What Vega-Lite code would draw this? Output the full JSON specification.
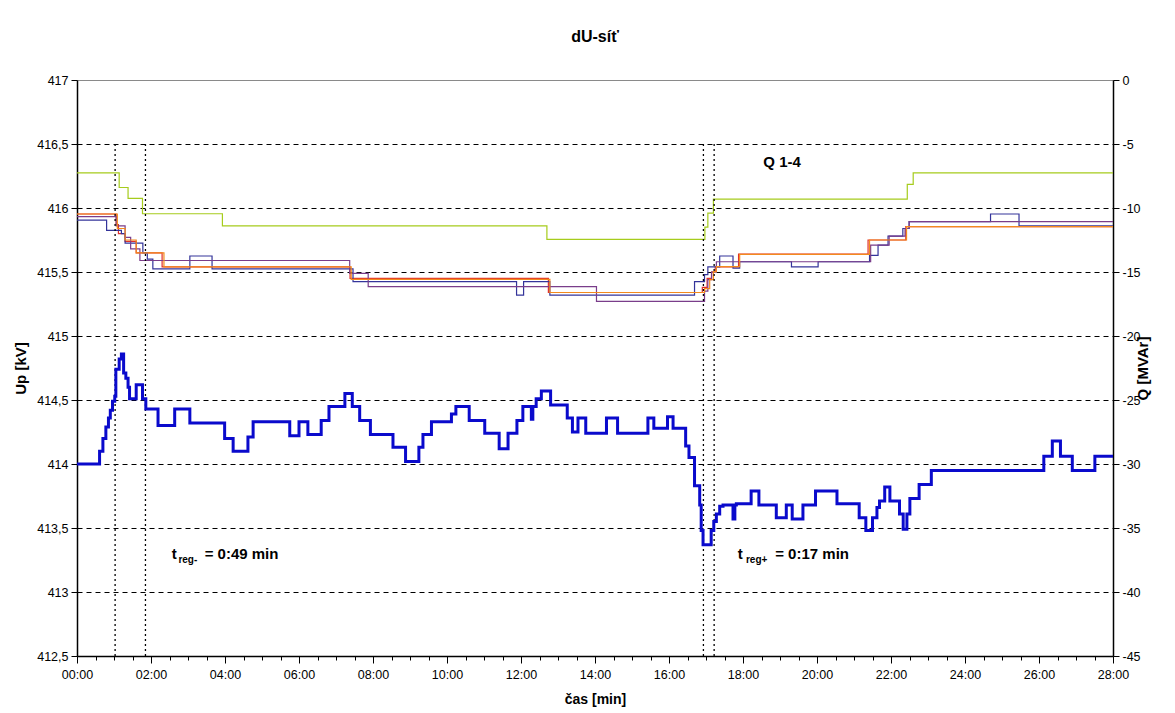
{
  "$schema": "https://vega.github.io/schema/vega-lite/v6.json",
  "width": 1036,
  "height": 576,
  "autosize": {"type": "none"},
  "padding": {"left": 77, "top": 80, "right": 62, "bottom": 57},
  "background": "white",
  "config": {"view": {"stroke": "#8a8a8a", "strokeWidth": 1}, "font": "Liberation Sans"},
  "title": {"text": "dU-síť", "font": "Liberation Sans", "fontSize": 16, "fontWeight": "bold", "color": "black", "anchor": "middle", "frame": "group", "offset": 29},
  "datasets": {
    "up": [
      {"t": 0, "U": 414.0}, {"t": 0.61, "U": 414.1}, {"t": 0.70, "U": 414.2}, {"t": 0.78, "U": 414.29}, {"t": 0.85, "U": 414.36},
      {"t": 0.90, "U": 414.42}, {"t": 0.96, "U": 414.49}, {"t": 1.02, "U": 414.53}, {"t": 1.05, "U": 414.74}, {"t": 1.14, "U": 414.82},
      {"t": 1.20, "U": 414.86}, {"t": 1.26, "U": 414.71}, {"t": 1.32, "U": 414.67}, {"t": 1.38, "U": 414.6}, {"t": 1.42, "U": 414.51},
      {"t": 1.60, "U": 414.62}, {"t": 1.77, "U": 414.51}, {"t": 1.86, "U": 414.43}, {"t": 2.19, "U": 414.3}, {"t": 2.64, "U": 414.43},
      {"t": 3.05, "U": 414.32}, {"t": 3.99, "U": 414.2}, {"t": 4.22, "U": 414.1}, {"t": 4.62, "U": 414.21}, {"t": 4.76, "U": 414.33},
      {"t": 5.75, "U": 414.22}, {"t": 6.00, "U": 414.33}, {"t": 6.24, "U": 414.23}, {"t": 6.60, "U": 414.34}, {"t": 6.81, "U": 414.45},
      {"t": 7.24, "U": 414.55}, {"t": 7.44, "U": 414.45}, {"t": 7.64, "U": 414.34}, {"t": 7.93, "U": 414.23}, {"t": 8.54, "U": 414.13},
      {"t": 8.88, "U": 414.02}, {"t": 9.24, "U": 414.13}, {"t": 9.35, "U": 414.23}, {"t": 9.58, "U": 414.33}, {"t": 10.12, "U": 414.39},
      {"t": 10.24, "U": 414.45}, {"t": 10.60, "U": 414.34}, {"t": 11.02, "U": 414.24}, {"t": 11.41, "U": 414.12}, {"t": 11.65, "U": 414.24},
      {"t": 11.89, "U": 414.34}, {"t": 12.05, "U": 414.45}, {"t": 12.28, "U": 414.35}, {"t": 12.32, "U": 414.45}, {"t": 12.41, "U": 414.51},
      {"t": 12.55, "U": 414.57}, {"t": 12.80, "U": 414.46}, {"t": 13.25, "U": 414.36}, {"t": 13.39, "U": 414.25}, {"t": 13.54, "U": 414.36},
      {"t": 13.75, "U": 414.24}, {"t": 14.31, "U": 414.36}, {"t": 14.61, "U": 414.24}, {"t": 15.43, "U": 414.36}, {"t": 15.59, "U": 414.28},
      {"t": 15.96, "U": 414.37}, {"t": 16.11, "U": 414.28}, {"t": 16.45, "U": 414.14}, {"t": 16.54, "U": 414.05}, {"t": 16.69, "U": 413.83},
      {"t": 16.83, "U": 413.68}, {"t": 16.87, "U": 413.48}, {"t": 16.92, "U": 413.37}, {"t": 17.14, "U": 413.48}, {"t": 17.21, "U": 413.55},
      {"t": 17.28, "U": 413.61}, {"t": 17.37, "U": 413.67}, {"t": 17.46, "U": 413.68}, {"t": 17.73, "U": 413.57}, {"t": 17.78, "U": 413.68},
      {"t": 17.82, "U": 413.69}, {"t": 18.22, "U": 413.79}, {"t": 18.43, "U": 413.68}, {"t": 18.90, "U": 413.58}, {"t": 19.17, "U": 413.68},
      {"t": 19.33, "U": 413.57}, {"t": 19.62, "U": 413.68}, {"t": 19.96, "U": 413.79}, {"t": 20.54, "U": 413.69}, {"t": 21.14, "U": 413.58},
      {"t": 21.32, "U": 413.48}, {"t": 21.50, "U": 413.58}, {"t": 21.62, "U": 413.66}, {"t": 21.69, "U": 413.71}, {"t": 21.83, "U": 413.82},
      {"t": 21.97, "U": 413.71}, {"t": 22.23, "U": 413.61}, {"t": 22.33, "U": 413.49}, {"t": 22.43, "U": 413.61}, {"t": 22.51, "U": 413.73},
      {"t": 22.76, "U": 413.84}, {"t": 23.09, "U": 413.95}, {"t": 26.13, "U": 414.06}, {"t": 26.36, "U": 414.18}, {"t": 26.58, "U": 414.06},
      {"t": 26.90, "U": 413.95}, {"t": 27.51, "U": 414.06}, {"t": 28.0, "U": 414.06}
    ],
    "q": [
      {"s": "R", "t": 0, "Q": -10.47}, {"s": "R", "t": 1.06, "Q": -11.3}, {"s": "R", "t": 1.12, "Q": -12.0}, {"s": "R", "t": 1.3, "Q": -12.6},
      {"s": "R", "t": 1.6, "Q": -13.5}, {"s": "R", "t": 2.3, "Q": -14.6}, {"s": "R", "t": 7.38, "Q": -15.5}, {"s": "R", "t": 12.74, "Q": -16.6},
      {"s": "R", "t": 16.9, "Q": -16.2}, {"s": "R", "t": 17.03, "Q": -15.5}, {"s": "R", "t": 17.15, "Q": -15.0}, {"s": "R", "t": 17.25, "Q": -14.6},
      {"s": "R", "t": 17.88, "Q": -13.6}, {"s": "R", "t": 21.38, "Q": -12.5}, {"s": "R", "t": 22.4, "Q": -11.46}, {"s": "R", "t": 28, "Q": -11.46},
      {"s": "B", "t": 0, "Q": -10.94}, {"s": "B", "t": 0.8, "Q": -11.75}, {"s": "B", "t": 1.2, "Q": -12.0}, {"s": "B", "t": 1.3, "Q": -12.75},
      {"s": "B", "t": 1.78, "Q": -13.5}, {"s": "B", "t": 1.9, "Q": -14.0}, {"s": "B", "t": 2.05, "Q": -14.75}, {"s": "B", "t": 3.05, "Q": -13.75},
      {"s": "B", "t": 3.65, "Q": -14.75}, {"s": "B", "t": 7.46, "Q": -15.75}, {"s": "B", "t": 11.88, "Q": -16.8}, {"s": "B", "t": 12.07, "Q": -15.75},
      {"s": "B", "t": 12.78, "Q": -16.8}, {"s": "B", "t": 16.69, "Q": -15.75}, {"s": "B", "t": 16.96, "Q": -15.2}, {"s": "B", "t": 17.05, "Q": -14.6},
      {"s": "B", "t": 17.37, "Q": -13.75}, {"s": "B", "t": 17.73, "Q": -14.7}, {"s": "B", "t": 17.91, "Q": -14.2}, {"s": "B", "t": 19.31, "Q": -14.6},
      {"s": "B", "t": 20.03, "Q": -14.2}, {"s": "B", "t": 21.42, "Q": -13.7}, {"s": "B", "t": 21.65, "Q": -12.9}, {"s": "B", "t": 21.92, "Q": -12.2},
      {"s": "B", "t": 22.32, "Q": -11.6}, {"s": "B", "t": 22.49, "Q": -11.07}, {"s": "B", "t": 24.69, "Q": -10.47}, {"s": "B", "t": 25.46, "Q": -11.4},
      {"s": "B", "t": 28, "Q": -11.4},
      {"s": "P", "t": 0, "Q": -10.68}, {"s": "P", "t": 1.06, "Q": -11.4}, {"s": "P", "t": 1.3, "Q": -12.3}, {"s": "P", "t": 1.45, "Q": -13.2},
      {"s": "P", "t": 1.7, "Q": -14.1}, {"s": "P", "t": 7.37, "Q": -15.1}, {"s": "P", "t": 7.87, "Q": -16.15}, {"s": "P", "t": 14.04, "Q": -17.3},
      {"s": "P", "t": 16.96, "Q": -16.5}, {"s": "P", "t": 17.05, "Q": -15.6}, {"s": "P", "t": 17.15, "Q": -15.0}, {"s": "P", "t": 17.28, "Q": -14.2},
      {"s": "P", "t": 21.45, "Q": -12.9}, {"s": "P", "t": 21.95, "Q": -12.2}, {"s": "P", "t": 22.38, "Q": -11.6}, {"s": "P", "t": 22.49, "Q": -11.07},
      {"s": "P", "t": 28, "Q": -11.07},
      {"s": "O", "t": 0, "Q": -10.47}, {"s": "O", "t": 1.09, "Q": -11.6}, {"s": "O", "t": 1.3, "Q": -12.5}, {"s": "O", "t": 1.6, "Q": -13.5},
      {"s": "O", "t": 2.35, "Q": -14.6}, {"s": "O", "t": 7.41, "Q": -15.57}, {"s": "O", "t": 12.78, "Q": -16.6}, {"s": "O", "t": 16.96, "Q": -16.3},
      {"s": "O", "t": 17.1, "Q": -15.6}, {"s": "O", "t": 17.2, "Q": -14.97}, {"s": "O", "t": 17.28, "Q": -14.58}, {"s": "O", "t": 17.91, "Q": -13.62},
      {"s": "O", "t": 21.42, "Q": -12.5}, {"s": "O", "t": 22.42, "Q": -11.46}, {"s": "O", "t": 28, "Q": -11.46},
      {"s": "G", "t": 0, "Q": -7.25}, {"s": "G", "t": 1.14, "Q": -8.4}, {"s": "G", "t": 1.38, "Q": -9.25}, {"s": "G", "t": 1.77, "Q": -10.45},
      {"s": "G", "t": 3.93, "Q": -11.4}, {"s": "G", "t": 12.7, "Q": -12.45}, {"s": "G", "t": 16.97, "Q": -11.5}, {"s": "G", "t": 17.05, "Q": -10.4},
      {"s": "G", "t": 17.2, "Q": -9.3}, {"s": "G", "t": 22.44, "Q": -8.15}, {"s": "G", "t": 22.6, "Q": -7.25}, {"s": "G", "t": 28, "Q": -7.25}
    ],
    "limits": [{"U": 414.5}, {"U": 413.5}],
    "target": [{"U": 414.0}],
    "marks": [
      {"t": 1.03, "U": 412.5, "U2": 416.5}, {"t": 1.85, "U": 412.5, "U2": 416.5},
      {"t": 16.93, "U": 412.5, "U2": 416.5}, {"t": 17.22, "U": 412.5, "U2": 416.5}
    ],
    "notes": [
      {"t": 2.56, "U": 413.3, "label": "t"}, {"t": 3.45, "U": 413.3, "label": "=  0:49 min"},
      {"t": 17.86, "U": 413.3, "label": "t"}, {"t": 18.87, "U": 413.3, "label": "=  0:17 min"},
      {"t": 18.55, "U": 416.36, "label": "Q 1-4"}
    ],
    "subs": [
      {"t": 2.74, "U": 413.3, "label": "reg-"}, {"t": 18.08, "U": 413.3, "label": "reg+"}
    ]
  },
  "encoding": {
    "x": {
      "field": "t", "type": "quantitative",
      "scale": {"domain": [0, 28], "nice": false, "zero": false},
      "axis": {
        "values": [0,0.5,1,1.5,2,2.5,3,3.5,4,4.5,5,5.5,6,6.5,7,7.5,8,8.5,9,9.5,10,10.5,11,11.5,12,12.5,13,13.5,14,14.5,15,15.5,16,16.5,17,17.5,18,18.5,19,19.5,20,20.5,21,21.5,22,22.5,23,23.5,24,24.5,25,25.5,26,26.5,27,27.5,28],
        "labelExpr": "datum.value % 2 == 0 ? (datum.value < 10 ? '0' : '') + datum.value + ':00' : ''",
        "tickSize": {"condition": {"test": "datum.value % 2 == 0", "value": 7}, "value": 4},
        "grid": false,
        "domainColor": "black", "domainWidth": 1.5, "tickColor": "black", "tickWidth": 1,
        "labelFont": "Liberation Sans", "labelFontSize": 12.5, "labelColor": "black", "labelPadding": 5,
        "labelFlush": false, "labelOverlap": false,
        "title": "čas [min]", "titleFont": "Liberation Sans", "titleFontSize": 14, "titleFontWeight": "bold",
        "titleColor": "black", "titlePadding": 12
      }
    }
  },
  "layer": [
    {
      "data": {"name": "q"},
      "mark": {"type": "line", "interpolate": "step-after", "strokeWidth": 1.2},
      "encoding": {
        "y": {
          "field": "Q", "type": "quantitative",
          "scale": {"domain": [-45, 0], "nice": false, "zero": false},
          "axis": {
            "orient": "right",
            "values": [-45,-40,-35,-30,-25,-20,-15,-10,-5,0],
            "labelExpr": "toString(datum.value)",
            "grid": false,
            "domainColor": "black", "domainWidth": 1.5, "tickColor": "black", "tickSize": 6,
            "labelFont": "Liberation Sans", "labelFontSize": 12.5, "labelColor": "black", "labelPadding": 3,
            "labelFlush": false,
            "title": "Q [MVAr]", "titleFont": "Liberation Sans", "titleFontSize": 15, "titleFontWeight": "bold",
            "titleColor": "black", "titleAngle": 270, "titlePadding": 10
          }
        },
        "color": {
          "field": "s", "type": "nominal",
          "scale": {"domain": ["R", "B", "P", "O", "G"], "range": ["#e0302a", "#34349a", "#7a3d8a", "#f38a1e", "#a6cc1c"]},
          "legend": null
        }
      }
    },
    {
      "encoding": {
        "y": {
          "field": "U", "type": "quantitative",
          "scale": {"domain": [412.5, 417], "nice": false, "zero": false},
          "axis": {
            "orient": "left",
            "values": [412.5,413,413.5,414,414.5,415,415.5,416,416.5,417],
            "labelExpr": "replace(toString(datum.value), '.', ',')",
            "grid": true, "gridColor": "black", "gridDash": [5, 4], "gridWidth": 1,
            "gridOpacity": {"condition": {"test": "datum.value >= 417 || datum.value <= 412.5", "value": 0}, "value": 1},
            "domainColor": "black", "domainWidth": 1.5, "tickColor": "black", "tickSize": 6,
            "labelFont": "Liberation Sans", "labelFontSize": 12.5, "labelColor": "black", "labelPadding": 3,
            "labelFlush": false,
            "title": "Up [kV]", "titleFont": "Liberation Sans", "titleFontSize": 15, "titleFontWeight": "bold",
            "titleColor": "black", "titlePadding": 8
          }
        }
      },
      "layer": [
        {
          "data": {"name": "limits"},
          "mark": {"type": "rule", "color": "#cc3333", "strokeWidth": 1.5}
        },
        {
          "data": {"name": "target"},
          "mark": {"type": "rule", "color": "#3fdede", "strokeWidth": 3.5}
        },
        {
          "data": {"name": "marks"},
          "mark": {"type": "rule", "color": "black", "strokeWidth": 1.3, "strokeDash": [2, 3]},
          "encoding": {"y2": {"field": "U2"}}
        },
        {
          "data": {"name": "up"},
          "mark": {"type": "line", "interpolate": "step-after", "color": "#0a0acc", "strokeWidth": 3}
        },
        {
          "data": {"name": "notes"},
          "mark": {"type": "text", "align": "left", "baseline": "middle", "font": "Liberation Sans", "fontSize": 15, "fontWeight": "bold", "color": "black"},
          "encoding": {"text": {"field": "label"}}
        },
        {
          "data": {"name": "subs"},
          "mark": {"type": "text", "align": "left", "baseline": "middle", "dy": 6, "font": "Liberation Sans", "fontSize": 10, "fontWeight": "bold", "color": "black"},
          "encoding": {"text": {"field": "label"}}
        }
      ]
    }
  ],
  "resolve": {"scale": {"y": "independent"}, "axis": {"y": "independent"}}
}
